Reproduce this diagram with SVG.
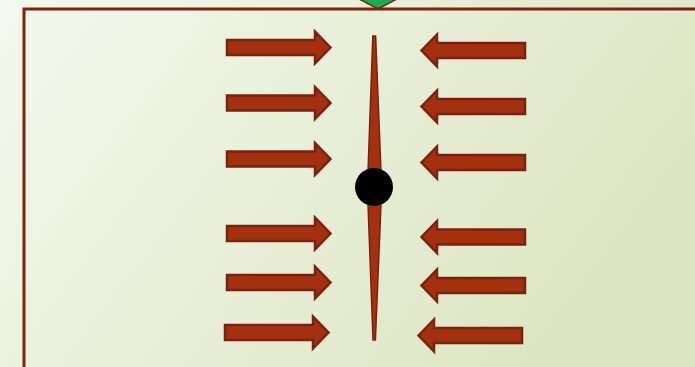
<svg xmlns="http://www.w3.org/2000/svg" width="695" height="367" viewBox="0 0 695 367">
<defs>
<linearGradient id="bg" x1="0" y1="0" x2="1" y2="0.4">
<stop offset="0" stop-color="#f5f8ee"/>
<stop offset="1" stop-color="#dde6c3"/>
</linearGradient>
<path id="ra" d="M1,-7.5 H89 V-16 L104.5,0 L89,16 V7.5 H1 Z"/>
<path id="la" d="M-1,-7.5 H-89 V-16 L-104.5,0 L-89,16 V7.5 H-1 Z"/>
</defs>
<style>
.arr{fill:#a3300f;stroke:#7a2210;stroke-width:2.5;stroke-linejoin:miter}
.frame{fill:none;stroke:#7b2410;stroke-width:3}
.needle{fill:#a3300f;stroke:#7a2210;stroke-width:1.5}
</style>
<rect width="695" height="367" fill="url(#bg)"/>
<g id="marker">
<polygon points="359,-1 397,-1 378,9" fill="#1faa50" stroke="#6b2a10" stroke-width="1.5"/>
</g>
<g id="frame">
<path class="frame" d="M24,367 V9 H695"/>
</g>
<g id="needle">
<polygon class="needle" points="372.8,36 375.6,36 381,172 368,172"/>
<polygon class="needle" points="368,204 381,204 375.4,340 373,340"/>
<circle cx="374" cy="187" r="19" fill="#000"/>
</g>
<g id="connectors">
<use href="#ra" class="arr" transform="translate(226,47.5)"/>
<use href="#ra" class="arr" transform="translate(226,103)"/>
<use href="#ra" class="arr" transform="translate(226,159)"/>
<use href="#ra" class="arr" transform="translate(226,233.5)"/>
<use href="#ra" class="arr" transform="translate(226,282.5)"/>
<use href="#ra" class="arr" transform="translate(224,332.5)"/>
<use href="#la" class="arr" transform="translate(526,50.5)"/>
<use href="#la" class="arr" transform="translate(526,106.5)"/>
<use href="#la" class="arr" transform="translate(526,162.5)"/>
<use href="#la" class="arr" transform="translate(526,237)"/>
<use href="#la" class="arr" transform="translate(526,285.5)"/>
<use href="#la" class="arr" transform="translate(523,335.5)"/>
</g>
</svg>
